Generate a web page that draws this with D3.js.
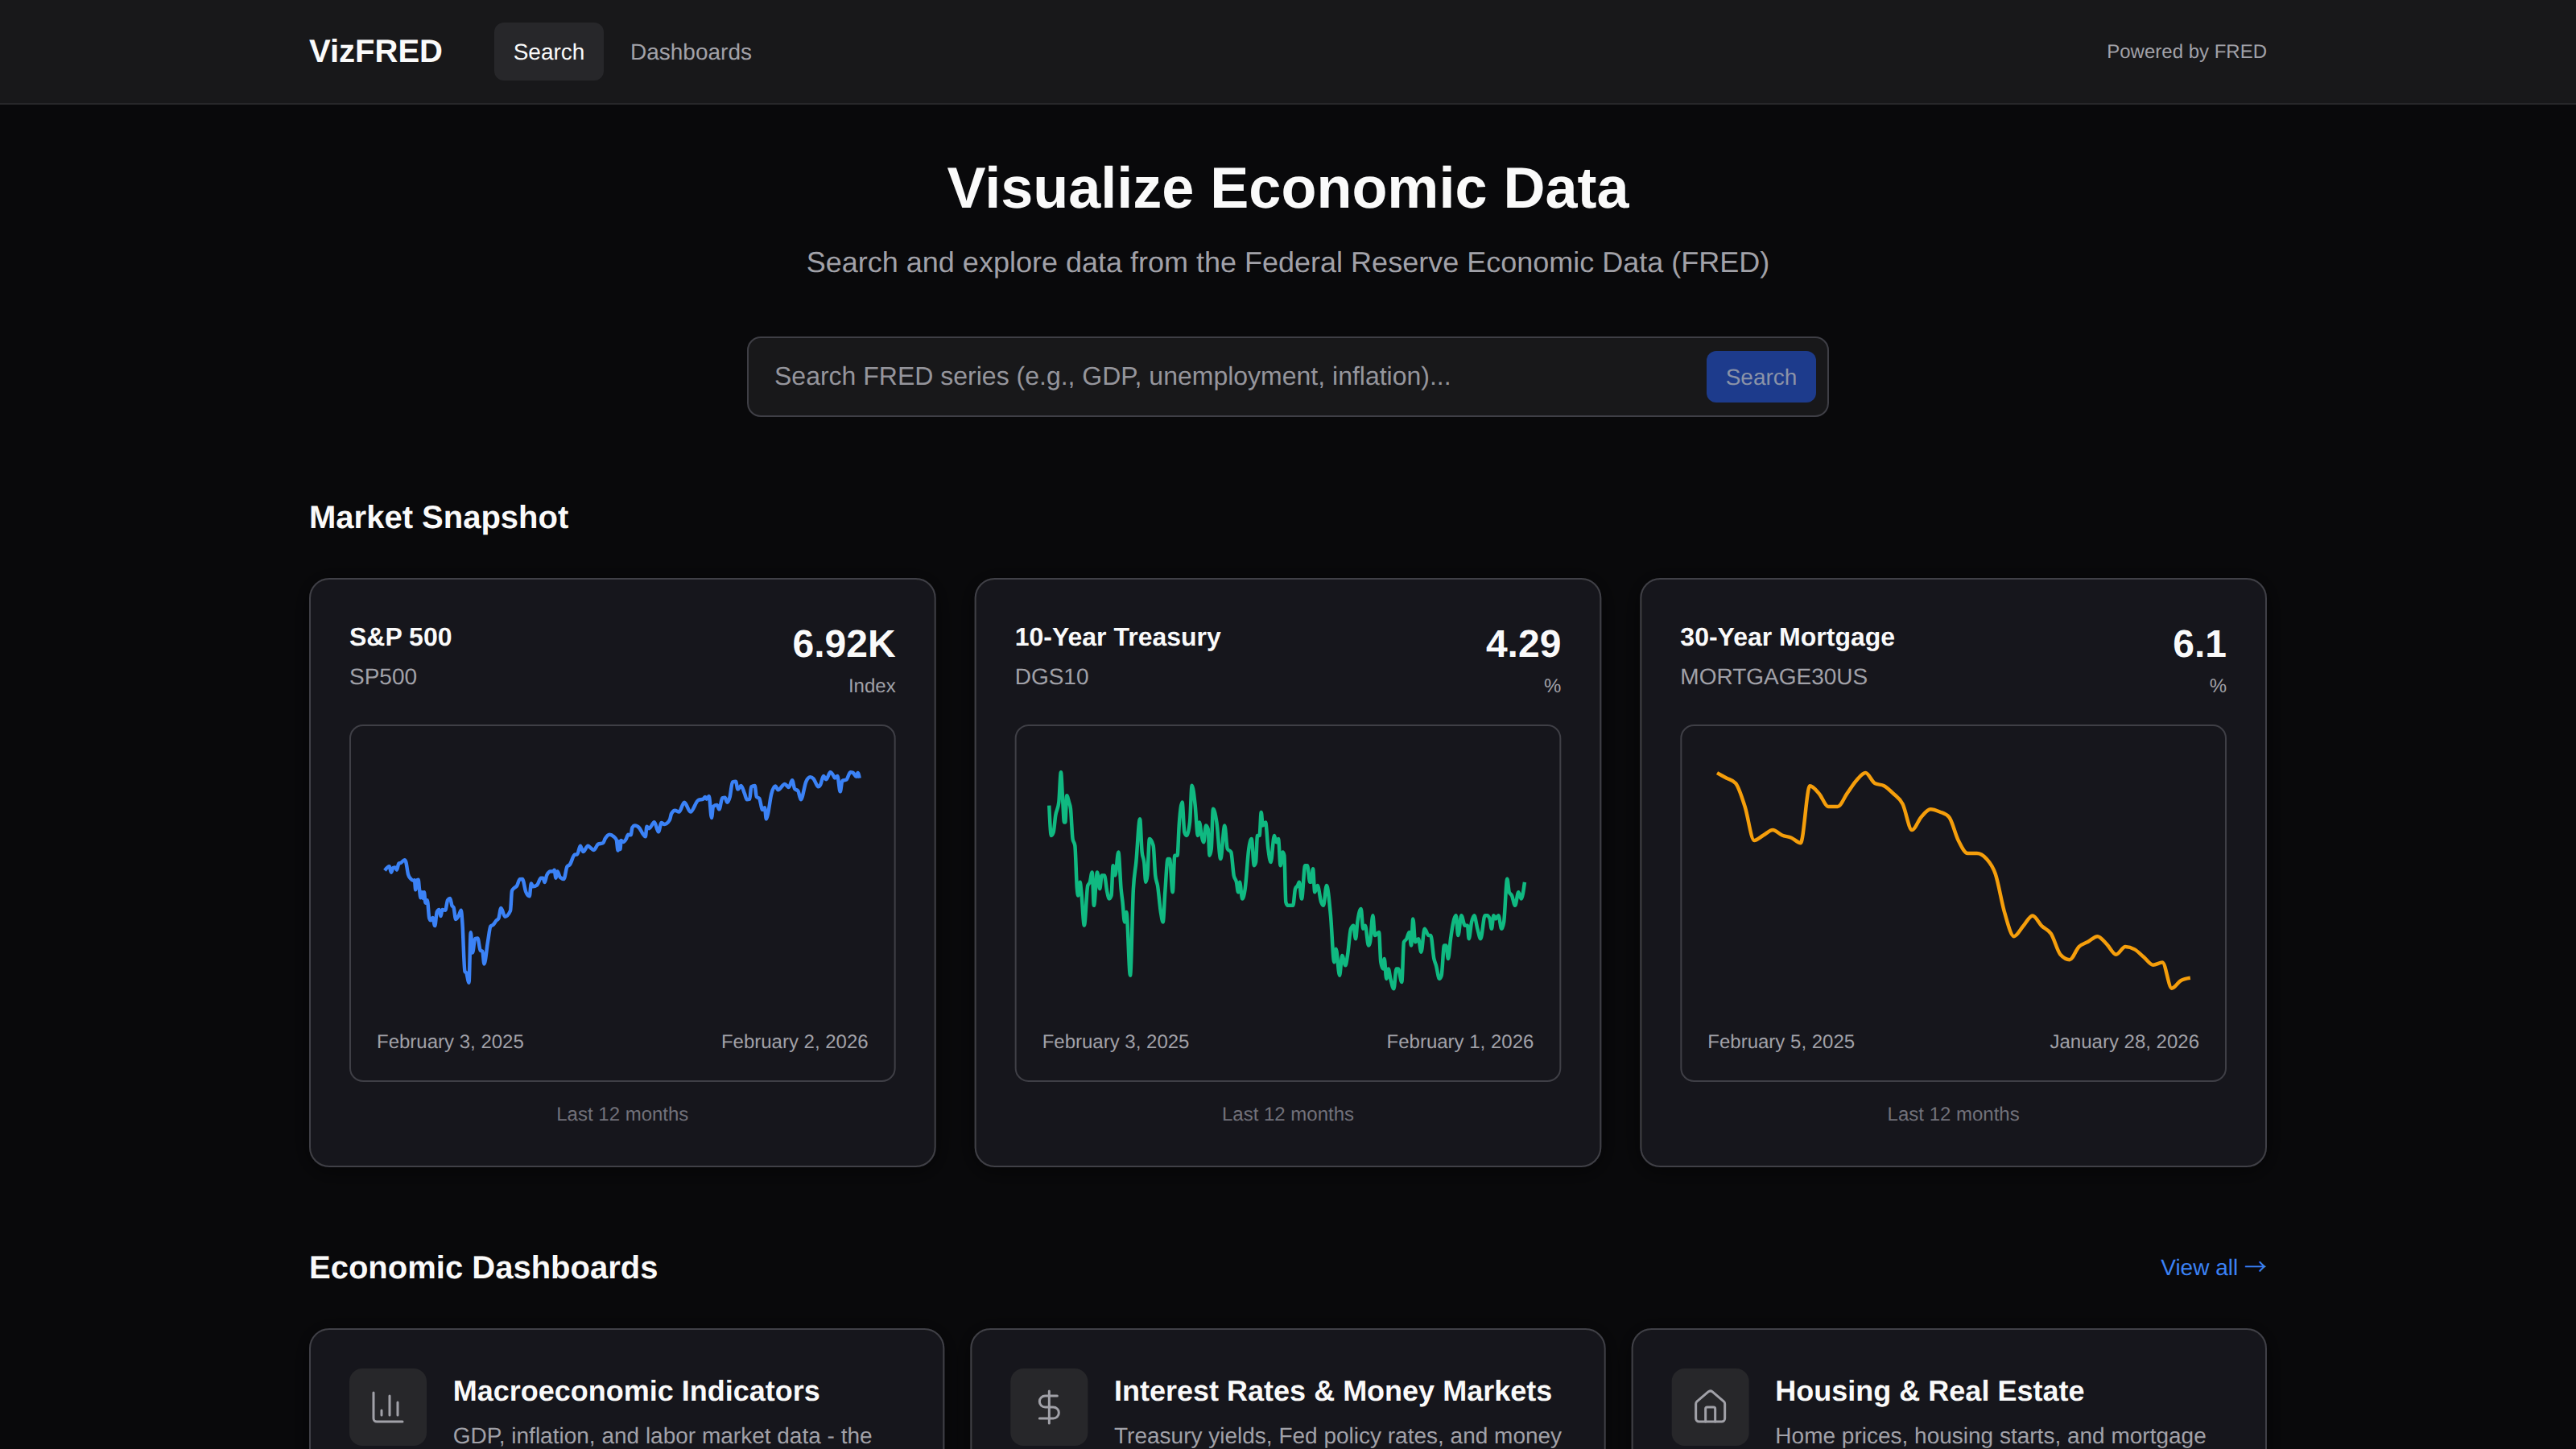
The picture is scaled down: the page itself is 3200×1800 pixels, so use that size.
<!DOCTYPE html>
<html><head><meta charset="utf-8">
<script src="https://cdn.jsdelivr.net/npm/d3@7"></script>
<style>
html,body{margin:0;padding:0;background:#09090b;overflow:hidden}
svg{display:block;font-family:"Liberation Sans",Arial,sans-serif;text-rendering:geometricPrecision}
</style></head><body>
<script>
// ---- data ----
const spDays=[0,3.5,4.9,6.4,8,9.2,10.7,12.1,15.2,16.2,17.9,19.9,21.6,22.8,23.6,24.4,25.7,26.5,27.5,28.5,29.4,30.2,31.2,32.6,34.1,35.1,36.7,38.4,40,41.7,42.9,44.1,46.4,48.2,50.1,51.5,52.8,54.4,56.9,58.5,59.5,61.4,62.6,64.5,65.9,67.3,69.2,71.2,73.3,74.9,76.2,79,81.1,83.2,85.2,87.3,89.1,92.2,96.3,97.5,99.6,101.2,103.5,105.5,108.2,110.9,112.3,113.5,116.8,119.7,121.3,122.6,124.2,127.1,129.1,130,131.2,132.4,134.5,137.3,139.8,141.9,145.6,147.6,149.9,152.1,155.8,157.9,160.3,163.6,167.3,169,172.3,175.6,177.6,178.8,179.7,180.5,181.2,182.9,184.9,186.6,188.6,189.8,191.7,195.2,197.9,199.9,200.9,202.6,206.7,209.8,212.2,214.3,218.4,219.8,222.5,225.6,229.7,234.4,240.4,244.1,245.7,246.7,248.6,250.6,251.8,254.7,256.4,258.8,260.9,262.5,264.6,266.6,269.1,270.7,273.2,275.9,277.7,279.8,281,283.7,285.1,287.2,289.6,291.3,292.5,293.7,296.4,299.5,301.5,306.7,309.8,312.4,314.3,316.9,319,323.1,326.2,328.7,332.4,334,336.4,338.5,341.6,344.2,345.1,347.1,349.2,350.8,353.9,357,359,361.5,362.7,364];
const spValues=[6043,6081,6025,6068,6073,6048,6109,6114,6142,6124,6007,5964,5948,5951,5859,5946,5956,5869,5783,5836,5778,5836,5734,5760,5589,5569,5594,5517,5650,5670,5609,5670,5665,5760,5778,5709,5691,5579,5620,5665,5543,5084,5069,4977,5454,5262,5395,5400,5283,5275,5155,5365,5512,5528,5563,5589,5686,5604,5660,5849,5880,5895,5959,5961,5839,5798,5920,5890,5905,5971,5971,5931,5997,6033,6033,6048,5971,6033,5977,5961,6079,6099,6193,6196,6277,6221,6277,6257,6237,6293,6303,6346,6384,6364,6334,6232,6318,6244,6328,6313,6339,6384,6379,6451,6469,6446,6390,6364,6461,6441,6502,6410,6497,6481,6522,6583,6614,6599,6690,6599,6711,6721,6742,6721,6749,6543,6650,6665,6624,6731,6736,6690,6742,6882,6889,6813,6849,6772,6716,6721,6838,6849,6742,6726,6619,6640,6532,6576,6767,6844,6808,6864,6833,6900,6818,6798,6716,6889,6930,6915,6838,6856,6940,6907,6976,6940,6920,6940,6792,6895,6905,6976,6971,6935,6971,6920];
const dgsDays=[0,1.6,3.3,4.9,7.4,9,10.2,11.5,12.3,13.5,15.2,16.4,18,19.7,21.3,22.1,23.6,24.6,26.8,29.5,31.1,32.8,34.2,36.7,38.7,40.2,42.2,44.3,45.9,47.5,48.8,50.4,52.9,54.9,56.1,57.6,59,61.9,64.3,66.4,69.3,70.9,72.5,73.8,75,76.6,79.5,81.1,82.8,85.2,86.9,88.5,90.6,92,94.3,95.9,97.9,99.2,101.6,103.3,104.9,107.4,109,111.5,113.5,114.7,116.4,118,119.7,121.3,122.5,123.8,125.2,127.9,130.9,134,136.1,138.9,141,143,144.3,145.5,147.5,149.6,152.4,154.5,156.5,157.8,159,160.6,161.9,163.1,165.2,167.2,169.2,171.9,173.3,175,176.6,178.3,179.5,180.7,182.1,186.2,187.9,189.7,190.9,192.8,195.4,197.1,199.1,199.9,201.4,202.8,204.9,207.7,209.4,211.8,214.9,217.6,219,221.7,223.7,226.2,227.8,230.3,232.3,234,235.4,238.1,239.7,241.3,243.8,245,247.1,248.7,251.8,253.2,254.9,255.9,257.5,259,260.6,263.1,265.1,266.5,269.2,270.8,272.9,274.9,276.4,277.8,279.5,281.9,284,286.6,289.7,291.3,293.8,295.4,297.9,299.5,301.6,303,304.6,306.5,309.2,310.6,312.2,314.7,317.4,319.4,320.4,322.5,324.5,327,329.4,332.7,334.4,336.4,337.8,339.3,340.9,343,345.4,347.1,349.7,351.2,353.2,355.7,358.3,360.4,363];
const dgsValues=[4.52,4.43,4.44,4.49,4.53,4.62,4.55,4.47,4.47,4.55,4.53,4.51,4.42,4.40,4.27,4.25,4.29,4.26,4.16,4.28,4.29,4.32,4.22,4.32,4.27,4.31,4.31,4.26,4.24,4.25,4.34,4.31,4.38,4.27,4.23,4.17,4.20,4.01,4.27,4.35,4.48,4.38,4.35,4.29,4.31,4.42,4.40,4.31,4.28,4.20,4.17,4.26,4.36,4.36,4.26,4.37,4.37,4.46,4.53,4.44,4.43,4.47,4.58,4.52,4.43,4.47,4.43,4.41,4.46,4.45,4.37,4.39,4.51,4.47,4.36,4.46,4.39,4.38,4.31,4.29,4.26,4.29,4.24,4.27,4.39,4.42,4.34,4.35,4.43,4.43,4.50,4.46,4.47,4.39,4.35,4.43,4.41,4.42,4.34,4.38,4.37,4.23,4.22,4.22,4.27,4.28,4.29,4.24,4.34,4.34,4.29,4.29,4.33,4.26,4.28,4.23,4.22,4.28,4.19,4.05,4.09,4.01,4.07,4.04,4.07,4.15,4.16,4.12,4.17,4.21,4.15,4.16,4.10,4.11,4.19,4.13,4.14,4.05,4.03,4.06,4.00,4.03,4.00,3.97,4.03,4.03,3.99,4.11,4.12,4.14,4.10,4.18,4.11,4.12,4.08,4.15,4.13,4.13,4.06,4.04,4.00,4.01,4.10,4.10,4.06,4.12,4.18,4.19,4.13,4.19,4.16,4.16,4.12,4.17,4.19,4.15,4.12,4.19,4.19,4.18,4.15,4.19,4.18,4.19,4.15,4.17,4.30,4.26,4.25,4.22,4.26,4.24,4.29];
const mortWeeks=[0,1,2,3,4,5,6,7,8,9,10,11,12,13,14,15,16,17,18,19,20,21,22,23,24,25,26,27,28,29,30,31,32,33,34,35,36,37,38,39,40,41,42,43,44,45,46,47,48,49,50,51];
const mortValues=[6.89,6.87,6.85,6.76,6.63,6.65,6.67,6.65,6.64,6.62,6.84,6.81,6.76,6.76,6.81,6.86,6.89,6.85,6.84,6.81,6.77,6.67,6.72,6.75,6.74,6.72,6.63,6.58,6.58,6.56,6.50,6.35,6.26,6.30,6.34,6.30,6.27,6.19,6.17,6.22,6.24,6.26,6.23,6.19,6.22,6.21,6.18,6.15,6.16,6.06,6.09,6.10];

const snapTitles=["S&P 500","10-Year Treasury","30-Year Mortgage"];
const snapIds=["SP500","DGS10","MORTGAGE30US"];
const snapLatest=["6.92K","4.29","6.1"];
const snapUnits=["Index","%","%"];
const snapStart=["February 3, 2025","February 3, 2025","February 5, 2025"];
const snapEnd=["February 2, 2026","February 1, 2026","January 28, 2026"];
const dashTitles=["Macroeconomic Indicators","Interest Rates & Money Markets","Housing & Real Estate"];
const dashDescs=["GDP, inflation, and labor market data - the","Treasury yields, Fed policy rates, and money","Home prices, housing starts, and mortgage"];

// ---- drawing ----
const W=3200,H=1800;
const svg=d3.select("body").append("svg").attr("width",W).attr("height",H).attr("viewBox",`0 0 ${W} ${H}`);
const defs=svg.append("defs");
const shadow=defs.append("filter").attr("id","sh").attr("x","-10%").attr("y","-10%").attr("width","120%").attr("height","120%");
shadow.append("feDropShadow").attr("dx",0).attr("dy",4).attr("stdDeviation",14).attr("flood-color","#000").attr("flood-opacity",0.55);

const C={bg:"#09090b",panel:"#18181a",border:"#3f3f46",raised:"#27272a",white:"#fafafa",mut:"#a1a1a8",dim:"#71717a",blue:"#3b82f6"};
function txt(parent,s,x,y,size,fill,opt={}){
  return parent.append("text").text(s).attr("x",x).attr("y",y).attr("font-size",size).attr("fill",fill)
    .attr("font-weight",opt.bold?700:400).attr("text-anchor",opt.anchor||"start")
    .attr("letter-spacing",opt.ls||null);
}
function box(parent,x,y,w,h,r,fill,stroke,filter){
  const sw=stroke?2:0;
  const b=parent.append("rect").attr("x",x+sw/2).attr("y",y+sw/2).attr("width",w-sw).attr("height",h-sw).attr("rx",r).attr("fill",fill);
  if(stroke)b.attr("stroke",stroke).attr("stroke-width",sw);
  if(filter)b.attr("filter",filter);
  return b;
}

// header
svg.append("rect").attr("width",W).attr("height",128).attr("fill",C.panel);
svg.append("rect").attr("y",128).attr("width",W).attr("height",2).attr("fill",C.raised);
txt(svg,"VizFRED",384,77,40,C.white,{bold:true});
box(svg,614,28,136,72,12,C.raised);
txt(svg,"Search",682,74,28,C.white,{anchor:"middle"});
txt(svg,"Dashboards",783,74,28,C.mut);
txt(svg,"Powered by FRED",2816,72,24,C.mut,{anchor:"end"});

// hero
txt(svg,"Visualize Economic Data",1600,258,72,C.white,{bold:true,anchor:"middle"});
txt(svg,"Search and explore data from the Federal Reserve Economic Data (FRED)",1600,338,36,C.mut,{anchor:"middle"});
box(svg,928,418,1344,100,16,C.panel,C.border);
txt(svg,"Search FRED series (e.g., GDP, unemployment, inflation)...",962,478,32,"#95959c");
box(svg,2120,436,136,64,12,"#1d3b8c");
txt(svg,"Search",2188,478,28,"#8b93a8",{anchor:"middle"});

// market snapshot
txt(svg,"Market Snapshot",384,656,40,C.white,{bold:true});
const cardW=2336/3, cardGap=48;
const lineColors=["#3b82f6","#10b981","#f59e0b"];
const series=[
  {x:spDays,y:spValues,xd:[0,364],yd:[4977,6976],xr:[44,633.7],yr:[1220.7,959.3]},
  {x:dgsDays,y:dgsValues,xd:[0,363],yd:[3.97,4.62],xr:[42.6,633.3],yr:[1228.3,959.3]},
  {x:mortWeeks,y:mortValues,xd:[0,51],yd:[6.06,6.89],xr:[45.7,633.5],yr:[1227.7,960.1]}
];
snapTitles.forEach((title,i)=>{
  const cx=384+i*(cardW+cardGap), g=svg.append("g");
  box(g,cx,718,cardW,732,24,C.panel,C.border,"url(#sh)");
  const il=cx+50, ir=cx+cardW-50;
  txt(g,title,il,802,32,C.white,{bold:true});
  txt(g,snapIds[i],il,850,28,C.mut);
  txt(g,snapLatest[i],ir,816,48,C.white,{bold:true,anchor:"end"});
  txt(g,snapUnits[i],ir,860,24,C.mut,{anchor:"end"});
  box(g,il,900,ir-il,444,16,"none",C.border);
  const s=series[i];
  const xs=d3.scaleLinear().domain(s.xd).range([il+s.xr[0],il+s.xr[1]]);
  const ys=d3.scaleLinear().domain(s.yd).range(s.yr);
  const line=d3.line().x((d,k)=>xs(s.x[k])).y(d=>ys(d)).curve(d3.curveMonotoneX);
  g.append("path").datum(s.y).attr("d",line).attr("fill","none").attr("stroke",lineColors[i]).attr("stroke-width",4.5).attr("stroke-linejoin","round");
  txt(g,snapStart[i],il+34,1302,24,C.mut);
  txt(g,snapEnd[i],ir-34,1302,24,C.mut,{anchor:"end"});
  txt(g,"Last 12 months",cx+cardW/2,1392,24,C.dim,{anchor:"middle"});
});

// dashboards
txt(svg,"Economic Dashboards",384,1588,40,C.white,{bold:true});
const viewAll=txt(svg,"View all ",2816,1584,28,C.blue,{anchor:"end"});
viewAll.append("tspan").text("→").attr("font-family","Noto Sans CJK JP");
const dashW=2368/3, dashGap=32;
const iconPaths=[
  ["M3 3v16a2 2 0 0 0 2 2h16","M18 17V9","M13 17V5","M8 17v-3"],
  ["M12 2v20","M17 5H9.5a3.5 3.5 0 0 0 0 7h5a3.5 3.5 0 0 1 0 7H6"],
  ["M15 21v-8a1 1 0 0 0-1-1h-4a1 1 0 0 0-1 1v8","M3 10a2 2 0 0 1 .709-1.528l7-5.999a2 2 0 0 1 2.582 0l7 5.999A2 2 0 0 1 21 10v9a2 2 0 0 1-2 2H5a2 2 0 0 1-2-2z"]
];
dashTitles.forEach((title,i)=>{
  const cx=384+i*(dashW+dashGap), g=svg.append("g");
  box(g,cx,1650,dashW,300,24,C.panel,C.border,"url(#sh)");
  box(g,cx+50,1700,96,96,16,C.raised);
  const ig=g.append("g").attr("transform",`translate(${cx+74},1724) scale(2)`)
    .attr("fill","none").attr("stroke",C.mut).attr("stroke-width",1.5).attr("stroke-linecap","round").attr("stroke-linejoin","round");
  iconPaths[i].forEach(d=>ig.append("path").attr("d",d));
  txt(g,title,cx+178.7,1740,36,C.white,{bold:true});
  txt(g,dashDescs[i],cx+178.7,1793,28,C.mut);
});
</script>
</body></html>
